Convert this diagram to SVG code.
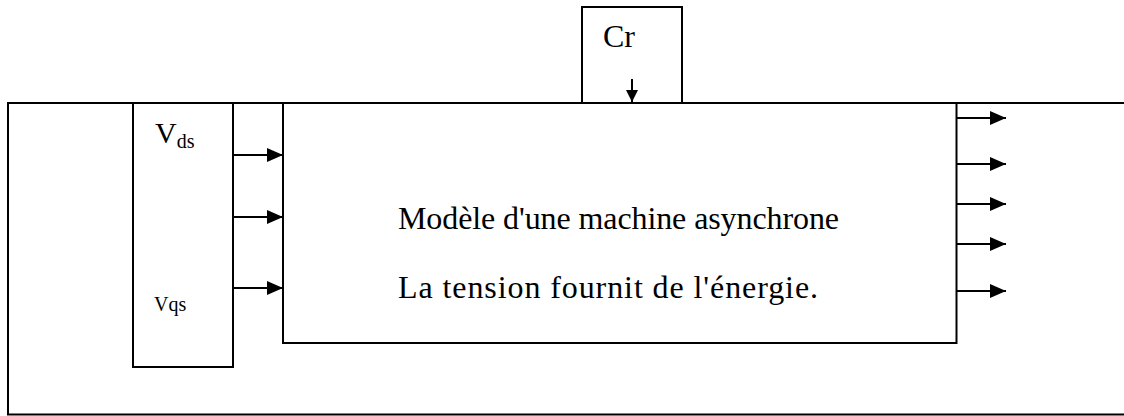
<svg xmlns="http://www.w3.org/2000/svg" width="1124" height="416" viewBox="0 0 1124 416">
  <style>
    .box { fill: none; stroke: #000; stroke-width: 2; }
    .wire { stroke: #000; stroke-width: 2; fill: none; }
    .t { font-family: "Liberation Serif", "Times New Roman", serif; fill: #000; }
  </style>
  <defs>
    <marker id="ah" viewBox="0 0 16 14" refX="16" refY="7" markerWidth="16" markerHeight="14" markerUnits="userSpaceOnUse" orient="auto">
      <path d="M0,0 L16,7 L0,14 Z" fill="#000"/>
    </marker>
    <marker id="ahs" viewBox="0 0 12 12" refX="12" refY="6" markerWidth="12" markerHeight="12" markerUnits="userSpaceOnUse" orient="auto">
      <path d="M0,0 L12,6 L0,12 Z" fill="#000"/>
    </marker>
  </defs>
  <rect width="1124" height="416" fill="#fff"/>

  <g id="outer">
    <path class="box" d="M1130,103 L8,103 L8,414.5 L1130,414.5"/>
  </g>

  <g id="cr">
    <rect class="box" x="582" y="7" width="100" height="96" fill="#fff"/>
    <text class="t" x="603" y="47" font-size="32">Cr</text>
  </g>

  <g id="voltages">
    <rect class="box" x="133" y="103" width="100" height="264"/>
    <text class="t" x="155" y="143" font-size="30">V<tspan font-size="20" dy="5">ds</tspan></text>
    <text class="t" x="154" y="311" font-size="20">Vqs</text>
  </g>

  <g id="machine">
    <rect class="box" x="283" y="103" width="673.5" height="240"/>
    <text class="t" x="398" y="229" font-size="32" textLength="441" lengthAdjust="spacing">Modèle d'une machine asynchrone</text>
    <text class="t" x="398" y="298" font-size="32" textLength="420" lengthAdjust="spacing">La tension fournit de l'énergie.</text>
  </g>

  <g id="connectors">
    <line class="wire" x1="632" y1="79" x2="632" y2="102" marker-end="url(#ahs)"/>
    <line class="wire" x1="233" y1="155" x2="283" y2="155" marker-end="url(#ah)"/>
    <line class="wire" x1="233" y1="217" x2="283" y2="217" marker-end="url(#ah)"/>
    <line class="wire" x1="233" y1="288" x2="283" y2="288" marker-end="url(#ah)"/>
    <line class="wire" x1="956" y1="118" x2="1006" y2="118" marker-end="url(#ah)"/>
    <line class="wire" x1="956" y1="164" x2="1006" y2="164" marker-end="url(#ah)"/>
    <line class="wire" x1="956" y1="204" x2="1006" y2="204" marker-end="url(#ah)"/>
    <line class="wire" x1="956" y1="244" x2="1006" y2="244" marker-end="url(#ah)"/>
    <line class="wire" x1="956" y1="291" x2="1006" y2="291" marker-end="url(#ah)"/>
  </g>
</svg>
